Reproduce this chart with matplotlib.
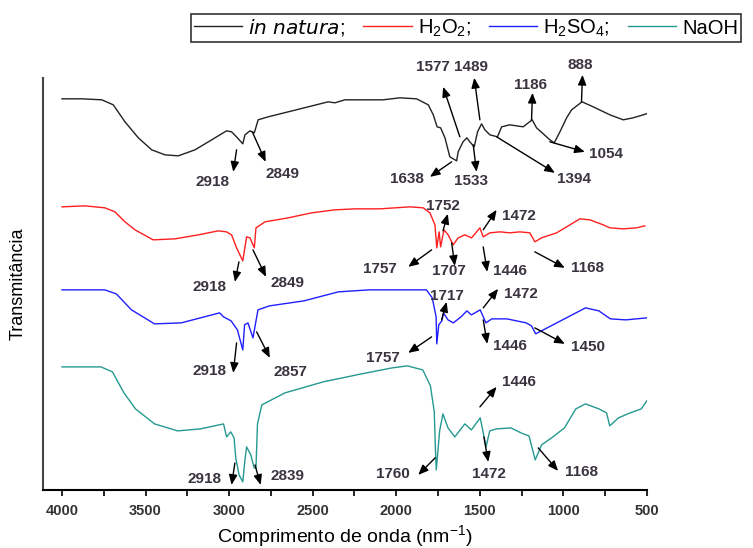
import numpy as np
import matplotlib
matplotlib.use("Agg")
import matplotlib.pyplot as plt
from matplotlib.ticker import MultipleLocator

plt.rcParams['font.family'] = ['Liberation Sans', 'DejaVu Sans']
plt.rcParams['mathtext.default'] = 'regular'

# FTIR spectra (wavenumber in cm-1, transmittance in arbitrary units, offset per sample)
wn_natura = [4000, 3880, 3762, 3693, 3623, 3543, 3463, 3384, 3304, 3204,
             3104, 3015, 2985, 2950, 2918, 2905, 2875, 2849, 2826, 2766,
             2646, 2526, 2407, 2367, 2307, 2247, 2078, 1978, 1878, 1808,
             1778, 1755, 1734, 1708, 1679, 1638, 1629, 1600, 1577, 1559,
             1533, 1513, 1489, 1469, 1439, 1394, 1369, 1320, 1240, 1186,
             1160, 1080, 1054, 1020, 980, 950, 888, 821, 721, 641,
             582, 502]
t_natura = [391, 391, 390, 385, 368, 352, 340, 335, 334, 340,
            350, 359, 358, 352, 346, 355, 359, 357, 370, 373,
            378, 383, 388, 387, 390, 390, 390, 392, 391, 385,
            375, 363, 362, 352, 333, 329, 338, 348, 352, 348,
            343, 358, 366, 360, 355, 353, 363, 365, 363, 370,
            362, 350, 347, 358, 372, 380, 388, 383, 375, 370,
            372, 376]

wn_h2o2 = [4000, 3862, 3743, 3683, 3623, 3563, 3454, 3324, 3184, 3065,
           3015, 2985, 2955, 2918, 2895, 2875, 2849, 2839, 2785, 2646,
           2506, 2367, 2247, 2097, 1918, 1838, 1798, 1768, 1757, 1743,
           1734, 1714, 1689, 1659, 1629, 1589, 1549, 1499, 1479, 1439,
           1380, 1320, 1260, 1200, 1170, 1130, 1040, 960, 901, 841,
           761, 721, 641, 562, 512]
t_h2o2 = [283, 284, 282, 278, 268, 260, 250, 251, 255, 259,
          258, 255, 242, 229, 253, 252, 242, 262, 268, 272,
          277, 280, 281, 281, 283, 282, 277, 265, 242, 258,
          243, 260, 255, 245, 252, 255, 252, 262, 253, 257,
          258, 257, 258, 257, 248, 252, 257, 265, 271, 270,
          265, 262, 261, 262, 264]

wn_h2so4 = [4000, 3744, 3675, 3584, 3446, 3286, 3057, 3033, 2988, 2950,
            2918, 2907, 2887, 2857, 2827, 2758, 2552, 2346, 2162, 1819,
            1784, 1761, 1757, 1745, 1727, 1717, 1690, 1658, 1612, 1577,
            1550, 1497, 1463, 1428, 1337, 1222, 1190, 1165, 1108, 993,
            867, 787, 718, 626, 500]
t_h2so4 = [200, 200, 196, 180, 166, 167, 177, 173, 169, 160,
           140, 165, 167, 152, 180, 184, 189, 198, 200, 200,
           192, 173, 146, 165, 169, 177, 170, 167, 173, 179,
           175, 180, 167, 171, 171, 167, 164, 156, 161, 171,
           182, 179, 171, 170, 172]

wn_naoh = [4000, 3767, 3698, 3629, 3560, 3446, 3308, 3171, 3033, 3015,
           2990, 2970, 2960, 2940, 2918, 2905, 2895, 2870, 2850, 2839,
           2830, 2804, 2666, 2437, 2208, 2024, 1933, 1841, 1795, 1772,
           1765, 1760, 1740, 1720, 1690, 1649, 1589, 1550, 1497, 1462,
           1440, 1400, 1314, 1240, 1205, 1168, 1130, 1062, 993, 925,
           867, 787, 741, 722, 670, 600, 533, 500]
t_naoh = [123, 123, 118, 97, 81, 66, 59, 61, 66, 53,
          58, 52, 32, 15, 8, 30, 43, 35, 22, 22,
          66, 85, 97, 108, 116, 122, 124, 120, 104, 78,
          40, 20, 59, 76, 62, 53, 66, 60, 72, 43,
          59, 61, 62, 56, 54, 30, 45, 53, 62, 81,
          86, 81, 77, 64, 72, 77, 81, 89]

labels = [r'$\it{in\ natura}$;', r'H$_2$O$_2$;', r'H$_2$SO$_4$;', 'NaOH']
colors = ['#222222', '#ff1f1f', '#1f1fff', '#259990']

# band labels: (text, arrow tail on curve, arrow head, text position)
bands = [
    ('2918', (2955, 340), (2975, 318), (3097, 308)),
    ('2849', (2861, 358), (2781, 328), (2678, 316)),
    ('1577', (1619, 353), (1719, 403), (1780, 423)),
    ('1489', (1499, 370), (1533, 412), (1553, 423)),
    ('1186', (1190, 370), (1184, 397), (1194, 405)),
    ('888', (891, 388), (885, 415), (901, 425)),
    ('1638', (1668, 328), (1798, 313), (1936, 311)),
    ('1533', (1539, 345), (1519, 318), (1553, 309)),
    ('1394', (1399, 353), (1050, 317), (937, 311)),
    ('1054', (1080, 348), (871, 338), (745, 336)),
    ('2918', (2941, 228), (2965, 208), (3115, 203)),
    ('2849', (2857, 240), (2779, 213), (2648, 207)),
    ('1752', (1720, 259), (1691, 276), (1720, 284)),
    ('1757', (1788, 240), (1928, 223), (2097, 221)),
    ('1707', (1668, 247), (1649, 224), (1685, 219)),
    ('1472', (1479, 260), (1399, 280), (1266, 274)),
    ('1446', (1479, 243), (1455, 218), (1320, 219)),
    ('1168', (1170, 238), (991, 222), (853, 222)),
    ('2918', (2955, 147), (2975, 117), (3115, 119)),
    ('2857', (2835, 158), (2756, 132), (2630, 118)),
    ('1757', (1788, 153), (1928, 137), (2079, 132)),
    ('1717', (1728, 170), (1698, 188), (1697, 194)),
    ('1472', (1479, 182), (1390, 201), (1254, 196)),
    ('1446', (1479, 170), (1455, 146), (1320, 144)),
    ('1450', (1170, 162), (991, 146), (853, 143)),
    ('2918', (2965, 27), (2985, 5), (3150, 11)),
    ('2839', (2845, 25), (2811, 5), (2648, 14)),
    ('1760', (1767, 32), (1868, 15), (2020, 16)),
    ('1446', (1499, 83), (1399, 103), (1266, 108)),
    ('1472', (1475, 53), (1449, 28), (1445, 16)),
    ('1168', (1150, 42), (1031, 19), (889, 18)),
]

fig = plt.figure(figsize=(7.53, 5.48), dpi=100)
ax = fig.add_axes([0.057, 0.106, 0.802, 0.752])

series = [(wn_natura, t_natura), (wn_h2o2, t_h2o2), (wn_h2so4, t_h2so4), (wn_naoh, t_naoh)]
for (x, y), lab, c in zip(series, labels, colors):
    ax.plot(x, y, color=c, lw=1.0, label=lab)

for txt, tail, head, pos in bands:
    ax.annotate('', xy=head, xytext=tail, annotation_clip=False,
                arrowprops=dict(arrowstyle='-|>,head_length=0.6,head_width=0.25',
                                color='black', lw=1.0, shrinkA=0, shrinkB=0))
    ax.text(pos[0], pos[1], txt, ha='center', va='center', fontsize=11,
            fontweight='bold', color='#3a3340', clip_on=False)

ax.set_xlim(4114, 500)
ax.set_ylim(0, 412)
ax.xaxis.set_major_locator(MultipleLocator(500))
ax.xaxis.set_minor_locator(MultipleLocator(250))
ax.tick_params(axis='x', which='both', length=4, width=1.2, direction='out', pad=6)
ax.set_yticks([])
for lbl in ax.get_xticklabels():
    lbl.set_fontweight('bold')
    lbl.set_fontsize(10.5)
    lbl.set_color('#333333')

ax.spines['top'].set_visible(False)
ax.spines['right'].set_visible(False)
ax.spines['left'].set_linewidth(1.5)
ax.spines['left'].set_color('#444444')
ax.spines['bottom'].set_linewidth(1.5)

ax.set_xlabel('Comprimento de onda (nm$^{-1}$)', fontsize=14, labelpad=4)
ax.set_ylabel('Transmitância', fontsize=13, labelpad=12)

leg = fig.legend(loc='upper left', bbox_to_anchor=(191 / 753, 1 - 14 / 548), ncol=4,
                 fontsize=14.5, frameon=True, fancybox=False, edgecolor='black',
                 handlelength=2.4, handletextpad=0.3, columnspacing=0.9,
                 borderpad=0.15, borderaxespad=0)
leg.get_frame().set_linewidth(1.2)

plt.savefig('out.png', dpi=100)
